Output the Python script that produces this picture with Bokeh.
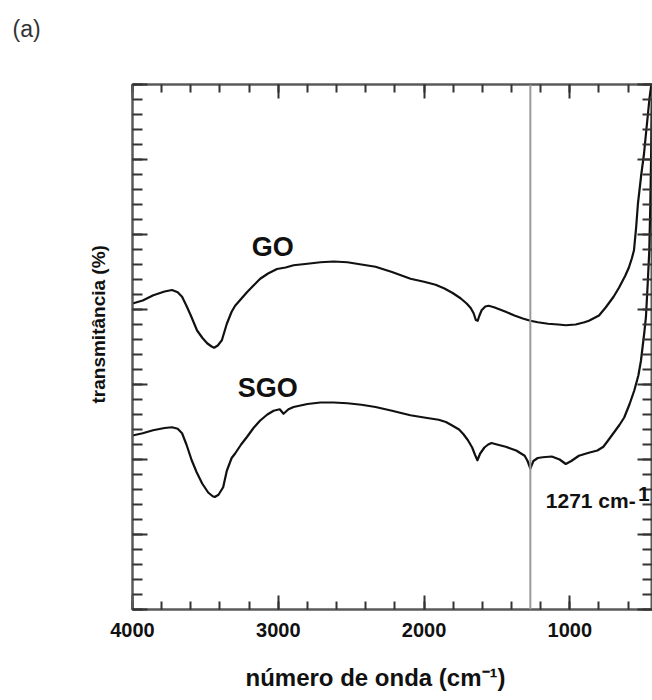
from bokeh.plotting import figure
from bokeh.models import Range1d, FixedTicker, LinearAxis, Label, Span, Title
from bokeh.embed import file_html
from bokeh.resources import INLINE

# FTIR spectra (wavenumber in cm-1, transmittance in arbitrary offset units)
go_wavenumber = [4000, 3930, 3857, 3780, 3729, 3690, 3660, 3630, 3600, 3557, 3520, 3488,
                 3460, 3440, 3415, 3387, 3370, 3353, 3320, 3296, 3260, 3215, 3170, 3124,
                 3070, 3009, 2950, 2895, 2800, 2711, 2620, 2526, 2430, 2333, 2220, 2093,
                 2000, 1921, 1860, 1804, 1750, 1708, 1680, 1660, 1645, 1632, 1620, 1605,
                 1580, 1557, 1520, 1440, 1380, 1323, 1271, 1220, 1150, 1080, 1028, 960,
                 900, 869, 800, 753, 700, 663, 620, 595, 575, 560, 545, 533, 510, 491,
                 475, 464, 454, 443, 436]
go_transmittance = [4.08, 4.12, 4.19, 4.24, 4.26, 4.23, 4.17, 4.05, 3.92, 3.72, 3.62, 3.55,
                    3.51, 3.49, 3.52, 3.59, 3.70, 3.81, 3.97, 4.05, 4.13, 4.23, 4.32, 4.41,
                    4.48, 4.54, 4.56, 4.59, 4.61, 4.63, 4.64, 4.63, 4.60, 4.57, 4.50, 4.41,
                    4.37, 4.33, 4.28, 4.22, 4.15, 4.08, 4.02, 3.95, 3.86, 3.85, 3.92, 3.99,
                    4.04, 4.05, 4.03, 3.97, 3.92, 3.88, 3.85, 3.83, 3.81, 3.80, 3.79, 3.80,
                    3.83, 3.85, 3.92, 4.03, 4.17, 4.29, 4.45, 4.56, 4.68, 4.79, 5.10, 5.41,
                    5.80, 6.08, 6.40, 6.61, 6.81, 6.97, 7.05]

sgo_wavenumber = [4000, 3930, 3859, 3780, 3729, 3690, 3660, 3630, 3594, 3560, 3522, 3481,
                  3450, 3436, 3410, 3378, 3353, 3320, 3296, 3255, 3215, 3170, 3124, 3075,
                  3032, 2990, 2964, 2930, 2895, 2800, 2711, 2620, 2526, 2430, 2333, 2220,
                  2094, 2000, 1900, 1850, 1804, 1760, 1731, 1700, 1670, 1650, 1634, 1615,
                  1586, 1560, 1537, 1500, 1440, 1368, 1310, 1290, 1271, 1250, 1220, 1186,
                  1124, 1070, 1028, 990, 938, 870, 811, 770, 739, 690, 660, 627, 590, 558,
                  530, 512, 490, 478, 466, 455, 448, 443, 439, 436]
sgo_transmittance = [2.32, 2.35, 2.39, 2.42, 2.43, 2.41, 2.35, 2.20, 1.99, 1.83, 1.68, 1.56,
                     1.51, 1.50, 1.53, 1.63, 1.85, 2.02, 2.08, 2.20, 2.30, 2.42, 2.52, 2.60,
                     2.65, 2.67, 2.61, 2.67, 2.70, 2.74, 2.76, 2.76, 2.75, 2.73, 2.70, 2.65,
                     2.59, 2.56, 2.53, 2.50, 2.45, 2.40, 2.34, 2.26, 2.16, 2.06, 1.99, 2.08,
                     2.16, 2.20, 2.22, 2.20, 2.17, 2.12, 2.05, 1.98, 1.88, 1.98, 2.02, 2.03,
                     2.04, 2.00, 1.94, 1.98, 2.05, 2.09, 2.12, 2.17, 2.25, 2.38, 2.46, 2.56,
                     2.74, 2.92, 3.12, 3.32, 3.68, 3.90, 4.34, 4.79, 5.40, 5.99, 6.50, 6.79]

x_major_ticks = [1000, 2000, 3000, 4000]
x_tick_labels = ["1000", "2000", "3000", "4000"]
x_minor_ticks = list(range(200, 4001, 200))
y_major_ticks = [0, 1, 2, 3, 4, 5, 6, 7]
y_minor_ticks = [i / 5 for i in range(0, 36)]
peak_wavenumber = 1271

FONT = "Liberation Sans"
INK = "#111111"
FRAME = "#5a5a5a"

p = figure(width=652, height=700, output_backend="svg", toolbar_location=None,
           x_range=Range1d(4000, 433), y_range=Range1d(0, 7),
           x_axis_location=None, y_axis_location=None,
           min_border_left=132, min_border_right=0, min_border_top=84, min_border_bottom=91)
p.xgrid.visible = False
p.ygrid.visible = False
p.outline_line_color = FRAME
p.outline_line_width = 2
p.background_fill_color = "white"
p.border_fill_color = "white"


def style_axis(ax, show_labels, major_len, minor_len):
    ax.axis_line_color = FRAME
    ax.axis_line_width = 2
    ax.major_tick_line_color = "#333333"
    ax.minor_tick_line_color = "#333333"
    ax.major_tick_line_width = 2
    ax.minor_tick_line_width = 2
    ax.major_tick_in = major_len
    ax.major_tick_out = 0
    ax.minor_tick_in = minor_len
    ax.minor_tick_out = 0
    if show_labels:
        ax.major_label_text_font = FONT
        ax.major_label_text_font_style = "bold"
        ax.major_label_text_font_size = "20px"
        ax.major_label_text_color = INK
        ax.major_label_standoff = 13
    else:
        # mirrored frame axes carry ticks only
        ax.major_label_text_font_size = "1px"
        ax.major_label_text_color = None
        ax.major_label_standoff = 0


x_ticker = FixedTicker(ticks=x_major_ticks, minor_ticks=x_minor_ticks)
y_ticker = FixedTicker(ticks=y_major_ticks, minor_ticks=y_minor_ticks)

bottom = LinearAxis(ticker=x_ticker,
                    major_label_overrides={t: s for t, s in zip(x_major_ticks, x_tick_labels)})
style_axis(bottom, True, 14, 8)
p.add_layout(bottom, "below")

top = LinearAxis(ticker=x_ticker)
style_axis(top, False, 14, 8)
p.add_layout(top, "above")

left = LinearAxis(ticker=y_ticker)
style_axis(left, False, 15, 10)
p.add_layout(left, "left")

right = LinearAxis(ticker=y_ticker)
style_axis(right, False, 15, 10)
p.add_layout(right, "right")


def side_title(text, size, style="bold", **kw):
    return Title(text=text, text_font=FONT, text_font_size=size, text_font_style=style,
                 text_color=kw.pop("color", INK), **kw)


# panel label, lifted above the frame by a blank spacer
p.add_layout(Title(text=" ", text_font_size="1px", standoff=38), "above")
p.add_layout(side_title("(a)", "23px", style="normal", color="#333333",
                        align="left", offset=-120, vertical_align="top", standoff=0), "above")

# x axis title
p.add_layout(Title(text=" ", text_font_size="1px", standoff=21), "below")
p.add_layout(side_title("número de onda (cm⁻¹)", "24px",
                        align="left", offset=113, vertical_align="top", standoff=0), "below")

# y axis title
p.add_layout(side_title("transmitância (%)", "19px",
                        align="left", offset=206, vertical_align="bottom", standoff=48), "left")

# marker line at the SGO band
p.add_layout(Span(location=peak_wavenumber, dimension="height",
                  line_color="#9a9a9a", line_width=2))

p.line(go_wavenumber, go_transmittance, line_color=INK, line_width=2.2, line_join="round")
p.line(sgo_wavenumber, sgo_transmittance, line_color=INK, line_width=2.2, line_join="round")


def add_text(x, y, text, size, align="center", baseline="middle"):
    p.add_layout(Label(x=x, y=y, text=text, text_font=FONT, text_font_size=size,
                       text_font_style="bold", text_align=align, text_baseline=baseline,
                       text_color=INK))


add_text(3038, 4.83, "GO", "27px")
add_text(3072, 2.96, "SGO", "27px")
add_text(1165, 1.45, f"{peak_wavenumber} cm-", "21px", align="left", baseline="alphabetic")
add_text(452, 1.54, "1", "21px", align="right", baseline="alphabetic")

open("out.html", "w").write(file_html(p, INLINE))
